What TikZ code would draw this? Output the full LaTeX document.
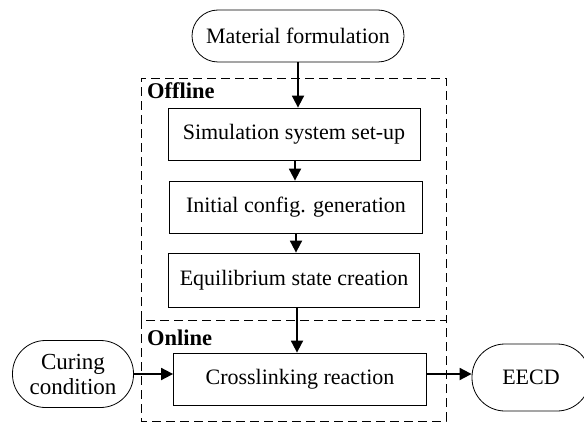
\documentclass[tikz,border=0pt]{standalone}
\usepackage{fontspec}
\setmainfont{Liberation Serif}
\usetikzlibrary{arrows.meta}
\begin{document}
\begin{tikzpicture}[x=1pt,y=-1pt,
  every node/.style={font=\fontsize{22}{24}\selectfont},
  stepbox/.style={draw, line width=0.8pt, rectangle, minimum height=52pt, inner sep=0pt},
  terminal/.style={draw, line width=0.8pt, rectangle, rounded corners=26pt, minimum height=52pt, inner sep=0pt},
  region/.style={draw, line width=0.9pt, dash pattern=on 9pt off 5pt},
  arr/.style={line width=1.8pt, -{Triangle[length=12pt,width=12pt]}},
  tag/.style={font=\fontsize{22.5}{24}\selectfont\bfseries, anchor=west, inner sep=0pt}]
\useasboundingbox (0,0) rectangle (584,425);

% dashed regions: the offline frame shares its bottom with the online frame
\draw[region] (141,320) -- (141,78) -- (446,78) -- (446,320);
\draw[region] (141,320) rectangle (446,421);
\node[tag] (off) at (147,91) {Offline};
\node[tag] (on) at (147,338) {Online};

% process chain
\node[terminal, minimum width=212pt] (mat) at (298,36) {Material formulation};
\node[stepbox, minimum width=252pt] (b1) at (294,134) {Simulation system set-up};
\node[stepbox, minimum width=253pt] (b2) at (296,207) {Initial config. generation};
\node[stepbox, minimum width=251pt, minimum height=54pt] (b3) at (294,280) {Equilibrium state creation};
\node[stepbox, minimum width=253pt] (cl) at (300,379) {Crosslinking reaction};
\node[terminal, minimum width=121pt, minimum height=67pt, rounded corners=33pt, align=center,
      font=\fontsize{23}{25}\selectfont] (cure) at (73,374) {Curing\\condition};
\node[terminal, minimum width=118pt, minimum height=67pt, rounded corners=33pt] (eecd) at (531,377.5) {EECD};

% connectors
\draw[arr] (mat.south) -- (mat.south |- b1.north);
\draw[arr] (b1.south -| 295,0) -- (b2.north -| 295,0);
\draw[arr] (b2.south) -- (b2.south |- b3.north);
\draw[arr] (b3.south -| 297,0) -- (cl.north -| 297,0);
\draw[arr] (cure.east |- 0,374) -- (cl.west |- 0,374);
\draw[arr] (cl.east |- 0,374) -- (eecd.west |- 0,374);
\end{tikzpicture}
\end{document}
